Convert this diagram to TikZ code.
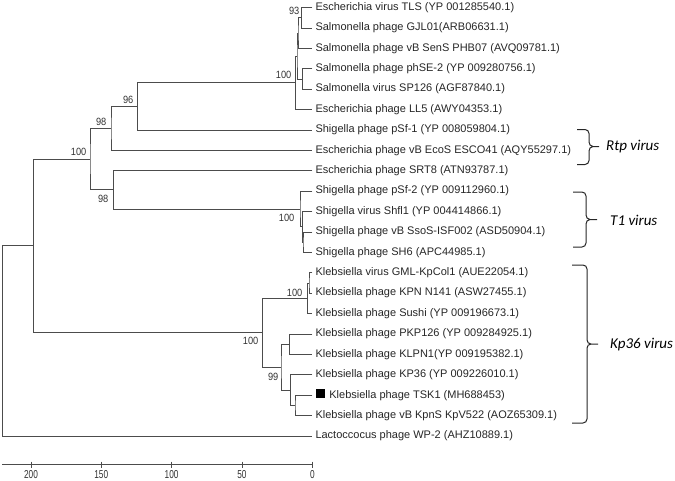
\documentclass[tikz,border=0pt]{standalone}
\usepackage{fontspec}
\setmainfont{Liberation Sans}
\newfontfamily\bootfont[FakeStretch=0.88]{Liberation Sans}
\newfontfamily\axisfont[FakeStretch=0.72]{Liberation Sans}
\newfontfamily\cladefont{Carlito}
\usepackage{tikz}
\usetikzlibrary{positioning}

\begin{document}
\begin{tikzpicture}[x=1pt,y=-1pt,font=\fontsize{11}{13}\selectfont,
leaf/.style={anchor=west,inner xsep=3pt,inner ysep=1pt,text=black!85},
branch/.style={draw=black!70,line width=0.8pt},
boot/.style={anchor=east,inner sep=0.5pt,text=black!80,
  font=\bootfont\fontsize{10.5}{12}\selectfont},
ticklab/.style={inner sep=0.5pt,text=black!80,
  font=\axisfont\fontsize{11.5}{12}\selectfont},
brace/.style={draw=black!85,line width=1pt},
cladename/.style={anchor=west,inner sep=1pt,font=\cladefont\itshape\fontsize{15}{17}\selectfont}]
\useasboundingbox (0,0) rectangle (675,480);

% leaves
\node[leaf] (tls) at (312.3,7.5) {Escherichia virus TLS (YP 001285540.1)};
\node[leaf] (gjl) at (312.3,27.9) {Salmonella phage GJL01(ARB06631.1)};
\node[leaf] (phb) at (312.3,48.3) {Salmonella phage vB SenS PHB07 (AVQ09781.1)};
\node[leaf] (phse) at (312.3,68.7) {Salmonella phage phSE-2 (YP 009280756.1)};
\node[leaf] (sp) at (312.3,89.1) {Salmonella virus SP126 (AGF87840.1)};
\node[leaf] (ll) at (312.3,109.5) {Escherichia phage LL5 (AWY04353.1)};
\node[leaf] (psfa) at (312.3,129.9) {Shigella phage pSf-1 (YP 008059804.1)};
\node[leaf] (esco) at (312.3,150.3) {Escherichia phage vB EcoS ESCO41 (AQY55297.1)};
\node[leaf] (srt) at (312.3,170.7) {Escherichia phage SRT8 (ATN93787.1)};
\node[leaf] (psfb) at (312.3,191.1) {Shigella phage pSf-2 (YP 009112960.1)};
\node[leaf] (shfl) at (312.3,211.5) {Shigella virus Shfl1 (YP 004414866.1)};
\node[leaf] (isf) at (312.3,231.9) {Shigella phage vB SsoS-ISF002 (ASD50904.1)};
\node[leaf] (sh) at (312.3,252.3) {Shigella phage SH6 (APC44985.1)};
\node[leaf] (gml) at (312.3,272.7) {Klebsiella virus GML-KpCol1 (AUE22054.1)};
\node[leaf] (kpn) at (312.3,293.1) {Klebsiella phage KPN N141 (ASW27455.1)};
\node[leaf] (sushi) at (312.3,313.5) {Klebsiella phage Sushi (YP 009196673.1)};
\node[leaf] (pkp) at (312.3,333.9) {Klebsiella phage PKP126 (YP 009284925.1)};
\node[leaf] (klpn) at (312.3,354.3) {Klebsiella phage KLPN1(YP 009195382.1)};
\node[leaf] (kp) at (312.3,374.7) {Klebsiella phage KP36 (YP 009226010.1)};
\node[leaf] (tsk) at (312.3,395.1) {\textcolor{black}{\rule{9pt}{9pt}}\, Klebsiella phage TSK1 (MH688453)};
\node[leaf] (kpv) at (312.3,415.5) {Klebsiella phage vB KpnS KpV522 (AOZ65309.1)};
\node[leaf] (lacto) at (312.3,435.9) {Lactoccocus phage WP-2 (AHZ10889.1)};

% internal nodes
\coordinate (nA) at (301.7,17.7);
\coordinate (nB) at (298,33);
\coordinate (nC) at (302.3,78.9);
\coordinate (nD) at (297,56);
\coordinate (nE) at (295.8,82.7);
\coordinate (nF) at (137.7,106.3);
\coordinate (nG) at (111,128.3);
\coordinate (nH) at (303,242.1);
\coordinate (nI) at (302.3,226.8);
\coordinate (nJ) at (300,209);
\coordinate (nK) at (113.3,189.8);
\coordinate (nL) at (90,159);
\coordinate (nM) at (309,282.9);
\coordinate (nN) at (307.7,298.2);
\coordinate (nO) at (289.3,344.1);
\coordinate (nP) at (295,405.3);
\coordinate (nQ) at (290.3,390);
\coordinate (nR) at (281,367);
\coordinate (nS) at (262.7,332.6);
\coordinate (nT) at (33.3,245.8);
\coordinate (root) at (2.7,340.9);

% branches
\draw[branch] (tls.west) -| (nA) |- (gjl.west);
\draw[branch] (nA) -| (nB) |- (phb.west);
\draw[branch] (phse.west) -| (nC) |- (sp.west);
\draw[branch] (nB) -| (nD) |- (nC);
\draw[branch] (nD) -| (nE) |- (ll.west);
\draw[branch] (nE) -| (nF) |- (psfa.west);
\draw[branch] (nF) -| (nG) |- (esco.west);
\draw[branch] (isf.west) -| (nH) |- (sh.west);
\draw[branch] (shfl.west) -| (nI) |- (nH);
\draw[branch] (psfb.west) -| (nJ) |- (nI);
\draw[branch] (srt.west) -| (nK) |- (nJ);
\draw[branch] (nG) -| (nL) |- (nK);
\draw[branch] (gml.west) -| (nM) |- (kpn.west);
\draw[branch] (nM) -| (nN) |- (sushi.west);
\draw[branch] (pkp.west) -| (nO) |- (klpn.west);
\draw[branch] (tsk.west) -| (nP) |- (kpv.west);
\draw[branch] (kp.west) -| (nQ) |- (nP);
\draw[branch] (nO) -| (nR) |- (nQ);
\draw[branch] (nN) -| (nS) |- (nR);
\draw[branch] (nL) -| (nT) |- (nS);
\draw[branch] (nT) -| (root) |- (lacto.west);

% bootstrap values
\node[boot] at (300,11) {93};
\node[boot] at (292,75) {100};
\node[boot] at (134,99.5) {96};
\node[boot] at (107,121.5) {98};
\node[boot] at (87,151.5) {100};
\node[boot] at (109,198.5) {98};
\node[boot] at (295,218) {100};
\node[boot] at (303,292.5) {100};
\node[boot] at (259,341) {100};
\node[boot] at (279,377) {99};

% scale
\draw[branch] (2,464.3) -- (312.3,464.3);
\draw[branch] (31,461.5) -- (31,468);
\draw[branch] (101.3,461.5) -- (101.3,468);
\draw[branch] (171.6,461.5) -- (171.6,468);
\draw[branch] (241.9,461.5) -- (241.9,468);
\draw[branch] (312.3,461.5) -- (312.3,468);
\node[ticklab] at (31,475) {200};
\node[ticklab] at (101.3,475) {150};
\node[ticklab] at (171.6,475) {100};
\node[ticklab] at (241.9,475) {50};
\node[ticklab] at (312.3,475) {0};

% clade brackets
\draw[brace] (577,129.5) -- (585,129.5) to[out=0,in=90] (589,133.5) -- (589,142)
  to[out=-90,in=180] (593,146.5) -- (599,146.5) -- (593,146.5)
  to[out=180,in=90] (589,151) -- (589,160.5) to[out=-90,in=0] (585,164.5) -- (577,164.5);
\node[cladename] at (605,147) {Rtp virus};
\draw[brace] (573,192) -- (582,192) to[out=0,in=90] (586,196) -- (586,215)
  to[out=-90,in=180] (590,219.5) -- (597,219.5) -- (590,219.5)
  to[out=180,in=90] (586,224) -- (586,243) to[out=-90,in=0] (582,247) -- (573,247);
\node[cladename] at (609,220) {T1 virus};
\draw[brace] (572,265) -- (583,265) to[out=0,in=90] (587,269) -- (587,340)
  to[out=-90,in=180] (591,344) -- (598,344) -- (591,344)
  to[out=180,in=90] (587,348) -- (587,419) to[out=-90,in=0] (583,423) -- (572,423);
\node[cladename] at (609,345) {Kp36 virus};
\end{tikzpicture}
\end{document}
